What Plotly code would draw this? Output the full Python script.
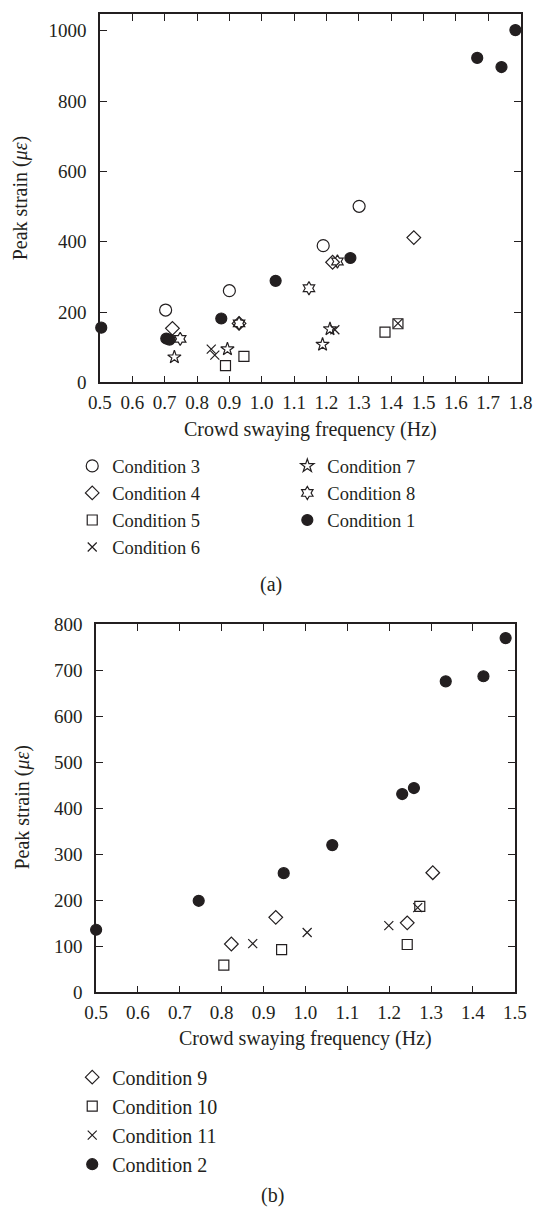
import plotly.graph_objects as go

INK = "#231f20"
FONT = "Liberation Serif"

# ---------------- Panel (a) data ----------------
a_c3_x = [0.703, 0.900, 1.190, 1.301]
a_c3_y = [206, 261, 389, 501]
a_c4_x = [0.724, 0.930, 1.219, 1.470]
a_c4_y = [154, 168, 342, 412]
a_c5_x = [0.888, 0.945, 1.381, 1.421]
a_c5_y = [48, 74, 143, 167]
a_c6_x = [0.844, 0.855, 1.226, 1.421]
a_c6_y = [95, 78, 150, 168]
a_c7_x = [0.730, 0.894, 1.188, 1.211]
a_c7_y = [72, 95, 108, 152]
a_c8_x = [0.748, 0.930, 1.146, 1.234]
a_c8_y = [124, 168, 268, 344]
a_c1_x = [0.504, 0.705, 0.715, 0.875, 1.043, 1.274, 1.666, 1.741, 1.784]
a_c1_y = [156, 125, 122, 182, 289, 354, 923, 897, 1002]

# ---------------- Panel (b) data ----------------
b_c9_x = [0.823, 0.929, 1.243, 1.304]
b_c9_y = [105, 163, 151, 260]
b_c10_x = [0.805, 0.943, 1.243, 1.273]
b_c10_y = [59, 93, 104, 187]
b_c11_x = [0.874, 1.004, 1.199, 1.268]
b_c11_y = [106, 130, 145, 184]
b_c2_x = [0.500, 0.745, 0.948, 1.064, 1.231, 1.259, 1.335, 1.425, 1.478]
b_c2_y = [136, 199, 259, 320, 431, 444, 676, 687, 770]

a_xticks = [0.5, 0.6, 0.7, 0.8, 0.9, 1.0, 1.1, 1.2, 1.3, 1.4, 1.5, 1.6, 1.7, 1.8]
a_yticks = [0, 200, 400, 600, 800, 1000]
b_xticks = [0.5, 0.6, 0.7, 0.8, 0.9, 1.0, 1.1, 1.2, 1.3, 1.4, 1.5]
b_yticks = [0, 100, 200, 300, 400, 500, 600, 700, 800]

W, H = 545, 1223

fig = go.Figure()


def add(x, y, name, symbol, size, xa, ya, legend):
    fig.add_trace(go.Scatter(
        x=x, y=y, mode="markers", name=name, xaxis=xa, yaxis=ya, legend=legend,
        cliponaxis=False,
        marker=dict(symbol=symbol, size=size, color=INK,
                    line=dict(color=INK, width=1.2)),
    ))


add(a_c3_x, a_c3_y, "Condition 3", "circle-open", 12, "x", "y", "legend")
add(a_c4_x, a_c4_y, "Condition 4", "diamond-open", 10.5, "x", "y", "legend")
add(a_c5_x, a_c5_y, "Condition 5", "square-open", 10, "x", "y", "legend")
add(a_c6_x, a_c6_y, "Condition 6", "x-thin-open", 9, "x", "y", "legend")
add(a_c7_x, a_c7_y, "Condition 7", "star-open", 10, "x", "y", "legend2")
add(a_c8_x, a_c8_y, "Condition 8", "hexagram-open", 10, "x", "y", "legend2")
add(a_c1_x, a_c1_y, "Condition 1", "circle", 11, "x", "y", "legend2")

add(b_c9_x, b_c9_y, "Condition 9", "diamond-open", 10.5, "x2", "y2", "legend3")
add(b_c10_x, b_c10_y, "Condition 10", "square-open", 10, "x2", "y2", "legend3")
add(b_c11_x, b_c11_y, "Condition 11", "x-thin-open", 9, "x2", "y2", "legend3")
add(b_c2_x, b_c2_y, "Condition 2", "circle", 11, "x2", "y2", "legend3")


def px_x(p):
    return p / W


def px_y(p):
    return 1 - p / H


axis_common = dict(
    showline=True, linecolor=INK, linewidth=1.5, mirror="ticks",
    ticks="inside", ticklen=7, tickwidth=1.2, tickcolor=INK,
    showgrid=False, zeroline=False,
    tickfont=dict(family=FONT, size=19, color=INK),
)

fig.update_layout(
    width=W, height=H,
    margin=dict(l=0, r=0, t=0, b=0),
    paper_bgcolor="white", plot_bgcolor="white",
    font=dict(family=FONT, color=INK),
    xaxis=dict(domain=[px_x(92), px_x(532)], range=[0.5, 1.8], anchor="y",
               tickvals=a_xticks, ticktext=[f"{v:.1f}" for v in a_xticks],
               ticklabelstandoff=2, **axis_common),
    yaxis=dict(domain=[px_y(379), px_y(4)], range=[0, 1048], anchor="x",
               tickvals=a_yticks, ticklabelstandoff=8, **axis_common),
    xaxis2=dict(domain=[px_x(88), px_x(526)], range=[0.5, 1.5], anchor="y2",
                tickvals=b_xticks, ticktext=[f"{v:.1f}" for v in b_xticks],
                ticklabelstandoff=2, **axis_common),
    yaxis2=dict(domain=[px_y(999.5), px_y(625)], range=[0, 800], anchor="x2",
                tickvals=b_yticks, ticklabelstandoff=8, **axis_common),
)

leg_common = dict(orientation="v", xanchor="left", yanchor="top",
                  bgcolor="rgba(0,0,0,0)", borderwidth=0, tracegroupgap=0,
                  itemclick=False)

fig.update_layout(
    legend=dict(x=px_x(63), y=px_y(445),
                font=dict(family=FONT, size=18.5, color=INK), **leg_common),
    legend2=dict(x=px_x(288), y=px_y(445),
                 font=dict(family=FONT, size=18.5, color=INK), **leg_common),
    legend3=dict(x=px_x(63), y=px_y(1066),
                 font=dict(family=FONT, size=20, color=INK), **leg_common),
)

ann = [
    dict(text="Crowd swaying frequency (Hz)", x=px_x(312), y=px_y(427)),
    dict(text="Peak strain (<i>με</i>)", x=px_x(9), y=px_y(191), textangle=-90),
    dict(text="(a)", x=px_x(271), y=px_y(585)),
    dict(text="Crowd swaying frequency (Hz)", x=px_x(307), y=px_y(1046)),
    dict(text="Peak strain (<i>με</i>)", x=px_x(11), y=px_y(811), textangle=-90),
    dict(text="(b)", x=px_x(272), y=px_y(1206)),
]
for a in ann:
    fig.add_annotation(xref="paper", yref="paper", showarrow=False,
                       xanchor="center", yanchor="middle",
                       font=dict(family=FONT, size=20, color=INK), **a)

fig.write_html("out.html")
